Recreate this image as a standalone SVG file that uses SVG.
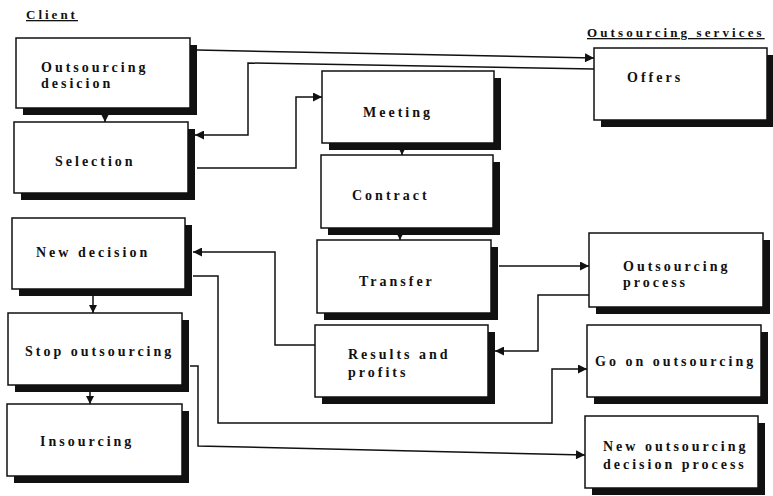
<svg xmlns="http://www.w3.org/2000/svg" width="773" height="496" viewBox="0 0 773 496">
<style>
.sh{fill:#111}
.bx{fill:#fff;stroke:#111;stroke-width:1.5}
text{font-family:"Liberation Serif","Times New Roman",serif;font-weight:bold;font-size:14px;letter-spacing:3px;fill:#111}
.hd{font-size:13px;text-decoration:underline}
.cn{fill:none;stroke:#111;stroke-width:1.5}
</style>
<defs>
<marker id="ah" viewBox="0 0 10 10" refX="10" refY="5" markerWidth="10" markerHeight="8" markerUnits="userSpaceOnUse" orient="auto">
<path d="M0,0 L10,5 L0,10 z" fill="#111"/>
</marker>
<marker id="ah2" viewBox="0 0 10 10" refX="10" refY="5" markerWidth="20" markerHeight="9" markerUnits="userSpaceOnUse" orient="auto">
<path d="M0,0 L10,5 L0,10 z" fill="#111"/>
</marker>
</defs>
<rect width="773" height="496" fill="#fff"/>
<text class="hd" x="26" y="19">Client</text>
<text class="hd" x="587" y="37" style="letter-spacing:3.1px">Outsourcing services</text>

<g id="connectors">
<path class="cn" d="M197,50 L594,58" marker-end="url(#ah2)"/>
<path class="cn" d="M594,69 L248,63 L248,135 L195,135" marker-end="url(#ah2)"/>
<path class="cn" d="M197,168 L296,168 L296,97 L322,97" marker-end="url(#ah2)"/>
<path class="cn" d="M105,115 L105,122" marker-end="url(#ah)"/>
<path class="cn" d="M402,150 L402,155" marker-end="url(#ah)"/>
<path class="cn" d="M400,235 L400,240" marker-end="url(#ah)"/>
<path class="cn" d="M499,266 L589,266" marker-end="url(#ah2)"/>
<path class="cn" d="M589,295 L538,295 L538,351 L495,351" marker-end="url(#ah2)"/>
<path class="cn" d="M315,345 L275,345 L275,252 L193,252" marker-end="url(#ah2)"/>
<path class="cn" d="M193,276 L218,276 L218,423 L552,423 L552,369 L587,369" marker-end="url(#ah2)"/>
<path class="cn" d="M190,366 L198,366 L198,446 L585,455" marker-end="url(#ah2)"/>
<path class="cn" d="M93,296 L93,313" marker-end="url(#ah)"/>
<path class="cn" d="M90,392 L90,404" marker-end="url(#ah)"/>
</g>

<g id="outsourcing-desicion">
<rect class="sh" x="23" y="45" width="174" height="70"/>
<rect class="bx" x="16" y="38" width="174" height="70"/>
<text x="41" y="72">Outsourcing</text>
<text x="41" y="88">desicion</text>
</g>
<g id="selection">
<rect class="sh" x="21" y="129" width="174" height="71"/>
<rect class="bx" x="14" y="122" width="174" height="71"/>
<text x="55" y="166">Selection</text>
</g>
<g id="new-decision">
<rect class="sh" x="19" y="225" width="173" height="71"/>
<rect class="bx" x="12" y="218" width="173" height="71"/>
<text x="36" y="257">New decision</text>
</g>
<g id="stop-outsourcing">
<rect class="sh" x="15" y="320" width="174" height="72"/>
<rect class="bx" x="8" y="313" width="174" height="72"/>
<text x="25" y="356">Stop outsourcing</text>
</g>
<g id="insourcing">
<rect class="sh" x="14" y="411" width="175" height="72"/>
<rect class="bx" x="7" y="404" width="175" height="72"/>
<text x="40" y="446">Insourcing</text>
</g>
<g id="meeting">
<rect class="sh" x="329" y="78" width="172" height="72"/>
<rect class="bx" x="322" y="71" width="172" height="72"/>
<text x="363" y="117">Meeting</text>
</g>
<g id="contract">
<rect class="sh" x="328" y="162" width="172" height="73"/>
<rect class="bx" x="321" y="155" width="172" height="73"/>
<text x="352" y="200">Contract</text>
</g>
<g id="transfer">
<rect class="sh" x="324" y="247" width="174" height="73"/>
<rect class="bx" x="317" y="240" width="174" height="73"/>
<text x="359" y="286">Transfer</text>
</g>
<g id="results-and-profits">
<rect class="sh" x="322" y="332" width="173" height="72"/>
<rect class="bx" x="315" y="325" width="173" height="72"/>
<text x="348" y="359">Results and</text>
<text x="348" y="377">profits</text>
</g>
<g id="offers">
<rect class="sh" x="601" y="55" width="173" height="72"/>
<rect class="bx" x="594" y="48" width="173" height="72"/>
<text x="627" y="82">Offers</text>
</g>
<g id="outsourcing-process">
<rect class="sh" x="596" y="240" width="174" height="74"/>
<rect class="bx" x="589" y="233" width="174" height="74"/>
<text x="623" y="271">Outsourcing</text>
<text x="623" y="287">process</text>
</g>
<g id="go-on-outsourcing">
<rect class="sh" x="594" y="332" width="174" height="72"/>
<rect class="bx" x="587" y="325" width="174" height="72"/>
<text x="595" y="366">Go on outsourcing</text>
</g>
<g id="new-outsourcing-decision-process">
<rect class="sh" x="592" y="423" width="173" height="72"/>
<rect class="bx" x="585" y="416" width="173" height="72"/>
<text x="603" y="451">New outsourcing</text>
<text x="603" y="469">decision process</text>
</g>
</svg>
